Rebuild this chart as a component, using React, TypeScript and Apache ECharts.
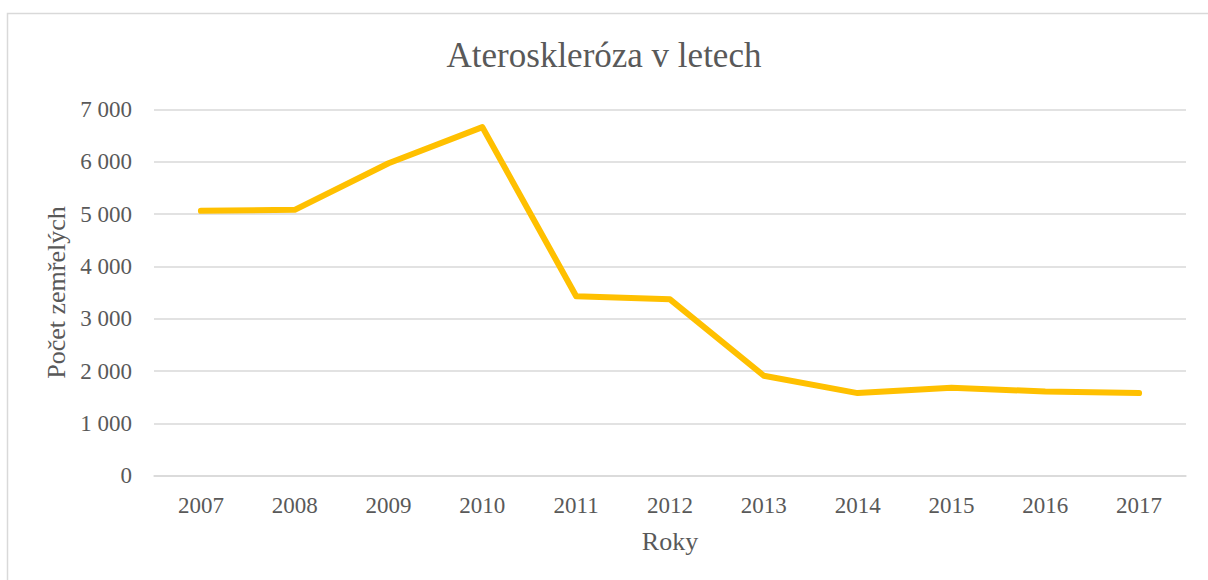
import React, { useEffect, useRef } from "react";
import * as echarts from "echarts";

const years = ["2007", "2008", "2009", "2010", "2011", "2012", "2013", "2014", "2015", "2016", "2017"];
const deaths = [5060, 5080, 5970, 6660, 3430, 3370, 1910, 1580, 1680, 1610, 1580];
const yTicks = [0, 1000, 2000, 3000, 4000, 5000, 6000, 7000];

const FONT = "'Liberation Serif', 'Times New Roman', serif";

export default function App() {
  const ref = useRef<HTMLDivElement>(null);
  useEffect(() => {
    const chart = echarts.init(ref.current!, null, { renderer: "svg" });
    chart.setOption({
      animation: false,
      backgroundColor: "#ffffff",
      graphic: [
        {
          type: "rect",
          shape: { x: 7.5, y: 13.5, width: 1220, height: 600 },
          style: { fill: "none", stroke: "#d9d9d9", lineWidth: 1.5 },
          silent: true,
        },
      ],
      title: {
        text: "Ateroskleróza v letech",
        left: "center",
        top: 33,
        textStyle: { fontFamily: FONT, fontSize: 35, fontWeight: "normal", color: "#595959" },
      },
      grid: { left: 154, right: 22, top: 109.3, bottom: 580 - 475.8, containLabel: false },
      xAxis: {
        type: "category",
        data: years,
        boundaryGap: true,
        name: "Roky",
        nameLocation: "middle",
        nameGap: 53,
        nameTextStyle: { fontFamily: FONT, fontSize: 26, color: "#595959" },
        axisLine: { show: true, lineStyle: { color: "#d9d9d9", width: 1.5 } },
        axisTick: { show: false },
        axisLabel: { fontFamily: FONT, fontSize: 23, color: "#595959", margin: 18 },
      },
      yAxis: {
        type: "value",
        min: 0,
        max: 7000,
        interval: 1000,
        name: "Počet zemřelých",
        nameLocation: "middle",
        nameGap: 85,
        nameTextStyle: { fontFamily: FONT, fontSize: 26, color: "#595959" },
        axisLine: { show: false },
        axisTick: { show: false },
        axisLabel: {
          fontFamily: FONT,
          fontSize: 23,
          color: "#595959",
          margin: 22,
          formatter: (v: number) => (yTicks.includes(v) ? (v >= 1000 ? `${Math.floor(v / 1000)} ${String(v % 1000).padStart(3, "0")}` : String(v)) : ""),
        },
        splitLine: { show: true, lineStyle: { color: "#d9d9d9", width: 1.5 } },
      },
      series: [
        {
          type: "line",
          data: deaths,
          symbol: "none",
          lineStyle: { color: "#ffc000", width: 6, cap: "round", join: "round" },
          itemStyle: { color: "#ffc000" },
        },
      ],
    });
    return () => chart.dispose();
  }, []);
  return (
    <div
      ref={ref}
      style={{ position: "fixed", left: 0, top: 0, width: 1208, height: 580, background: "#fff" }}
    />
  );
}
